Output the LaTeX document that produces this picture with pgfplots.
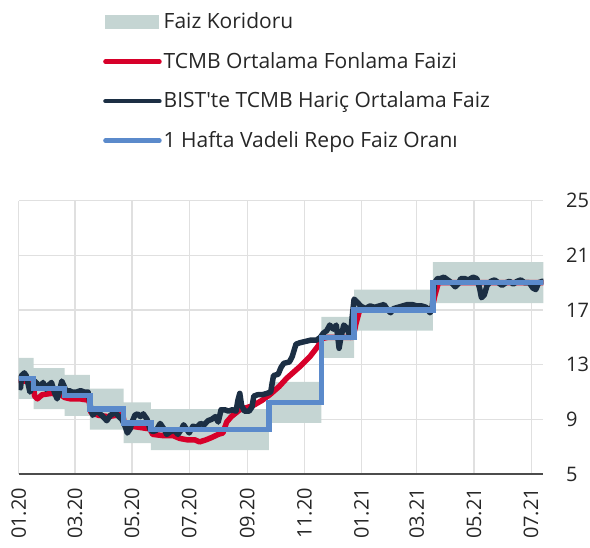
\documentclass[border=0pt]{standalone}
\usepackage{fontspec}
\setmainfont{Open Sans}
\usepackage{pgfplots}
\pgfplotsset{compat=1.18}
\definecolor{corr}{RGB}{197,213,211}
\definecolor{tcmb}{RGB}{215,0,42}
\definecolor{bist}{RGB}{28,47,68}
\definecolor{repo}{RGB}{91,138,203}
\definecolor{gridc}{RGB}{224,224,224}
\begin{document}
\fontsize{20}{24}\selectfont
\begin{tikzpicture}
\useasboundingbox (-18.7pt,-74pt) rectangle (571.3pt,474pt);
\begin{axis}[
  at={(0,0)}, anchor=south west,
  scale only axis, width=524.6pt, height=273.3pt,
  xmin=0, xmax=560, ymin=5, ymax=25,
  ytick={5,9,13,17,21,25},
  xtick={0,60,121,182,244,305,366,425,486,547},
  xticklabels={01.20,03.20,05.20,07.20,09.20,11.20,01.21,03.21,05.21,07.21},
  grid=major, major grid style={gridc, line width=1.2pt},
  axis x line*=bottom,
  x axis line style={-, draw=black!70, line width=1.2pt},
  y axis line style={draw=none},
  yticklabel pos=right,
  major tick length=0pt,
  tick label style={font=\fontsize{20}{24}\selectfont, text=black!85},
  /pgf/number format/assume math mode=true,
  yticklabel={\hspace*{16pt}\pgfmathprintnumber{\tick}},
  yticklabel style={anchor=west},
  xticklabel style={rotate=90, anchor=east},
  xticklabel shift=7pt,
  legend style={at={(0.155,1.703)}, anchor=north west, draw=none, fill=none,
    row sep=16.5pt, font=\fontsize{21}{25}\selectfont, text=black!85,
    /tikz/every even column/.append style={column sep=0pt}},
  legend cell align=left,
  line join=round,
]
\addplot[fill=corr, draw=none, legend image code/.code={\fill[corr] (0pt,-7pt) rectangle (54pt,7pt);}]
 coordinates {(0,13.5) (16,13.5) (16,12.75) (49,12.75) (49,12.25) (76,12.25) (76,11.25) (112,11.25) (112,10.25) (141,10.25) (141,9.75) (267,9.75) (267,11.75) (323,11.75) (323,16.5) (358,16.5) (358,18.5) (442,18.5) (442,20.5) (562,20.5)
 (562,17.5) (442,17.5) (442,15.5) (358,15.5) (358,13.5) (323,13.5) (323,8.75) (267,8.75) (267,6.75) (141,6.75) (141,7.25) (112,7.25) (112,8.25) (76,8.25) (76,9.25) (49,9.25) (49,9.75) (16,9.75) (16,10.5) (0,10.5)} -- cycle;
\addlegendentry{Faiz Koridoru}
\addplot[tcmb, line width=5.5pt, legend image code/.code={\draw[tcmb, line width=4.5pt, line cap=round] (0pt,0pt) -- (54pt,0pt);}]
 coordinates {(0,11.7) (5,11.8) (15,11.8) (17,10.7) (20,10.5) (25,10.8) (35,10.9) (45,10.8) (49,10.6) (55,10.5) (65,10.5) (75,10.4) (77,9.5) (85,9.3) (95,9.2) (105,9.3) (111,9.4) (113,8.6) (120,8.5) (130,8.4) (140,8.3) (143,7.9) (155,7.8) (165,7.8) (172,7.6) (180,7.5) (188,7.5) (193,7.35) (200,7.5) (207,7.7) (213,7.9) (218,8.0) (222,8.8) (227,9.2) (236,9.7) (250,10.0) (260,10.4) (268,10.8) (278,11.4) (286,12.0) (300,12.85) (311,13.6) (320,14.4) (323,14.9) (330,15.0) (357,15.0) (360,16.0) (364,17.0) (441,17.0) (444,18.0) (448,19.0) (562,19.0)};
\addlegendentry{TCMB Ortalama Fonlama Faizi}
\addplot[bist, line width=5.5pt, legend image code/.code={\draw[bist, line width=4.5pt, line cap=round] (0pt,0pt) -- (54pt,0pt);}]
 coordinates {(0,11.4) (2,11.3) (3,12.2) (6,12.4) (8,12.2) (10,11.6) (12,11.0) (14,11.3) (17,11.8) (20,11.6) (23,11.3) (26,11.7) (29,11.2) (32,11.5) (35,11.7) (38,11.0) (41,10.5) (43,10.9) (46,11.8) (48,11.5) (51,11.0) (54,11.1) (57,11.0) (62,11.0) (66,11.1) (70,11.0) (74,11.0) (77,9.8) (79,9.3) (83,9.6) (87,9.4) (90,9.2) (94,8.9) (98,9.3) (103,9.5) (107,9.2) (110,9.0) (113,8.6) (116,8.0) (119,8.3) (121,8.8) (124,9.3) (127,9.4) (130,9.2) (133,9.4) (137,9.0) (140,8.3) (143,8.1) (147,8.2) (151,8.7) (155,8.3) (158,7.9) (162,8.1) (166,8.2) (170,7.9) (174,8.3) (176,8.6) (179,8.3) (182,8.0) (186,8.5) (190,8.4) (194,8.7) (198,8.6) (202,8.9) (206,9.0) (210,9.2) (213,8.8) (216,9.7) (220,9.7) (224,9.6) (228,9.7) (232,9.6) (234,10.4) (236,10.9) (238,10.0) (241,9.6) (246,9.6) (249,9.9) (251,10.7) (255,10.8) (260,10.8) (265,10.9) (269,11.0) (272,12.2) (277,12.3) (280,12.8) (283,13.1) (289,13.2) (292,13.6) (296,14.5) (300,14.6) (306,14.7) (312,14.8) (318,14.8) (322,15.0) (325,15.3) (329,15.5) (332,15.9) (336,15.6) (339,15.9) (341,14.8) (342,14.2) (344,15.0) (347,15.9) (350,15.7) (354,15.0) (356,16.5) (358,17.8) (361,17.6) (365,17.3) (370,17.1) (375,17.3) (380,17.2) (385,17.3) (390,17.4) (394,17.0) (397,16.8) (400,17.1) (405,17.2) (410,17.3) (415,17.4) (420,17.4) (425,17.3) (430,17.3) (435,17.2) (439,16.8) (441,17.0) (444,19.0) (447,19.3) (450,19.3) (454,19.4) (458,19.2) (462,19.0) (466,18.7) (469,18.9) (472,19.3) (476,19.3) (480,19.2) (485,19.4) (489,19.3) (492,18.6) (494,17.9) (497,18.1) (500,18.8) (504,19.1) (508,19.2) (512,19.0) (516,18.8) (520,19.0) (524,19.1) (528,18.9) (532,19.1) (536,19.2) (540,19.0) (545,19.0) (549,18.6) (552,18.5) (555,19.0) (559,19.1) (562,19.1)};
\addlegendentry{BIST\textquotesingle te TCMB Hariç Ortalama Faiz}
\addplot[repo, line width=5.5pt, const plot, line join=miter, legend image code/.code={\draw[repo, line width=4.5pt, line cap=round] (0pt,0pt) -- (54pt,0pt);}]
 coordinates {(0,12) (16,11.25) (49,10.75) (76,9.75) (112,8.75) (141,8.25) (267,10.25) (323,15) (358,17) (442,19) (562,19)};
\addlegendentry{1 Hafta Vadeli Repo Faiz Oranı}
\end{axis}
\end{tikzpicture}
\end{document}
